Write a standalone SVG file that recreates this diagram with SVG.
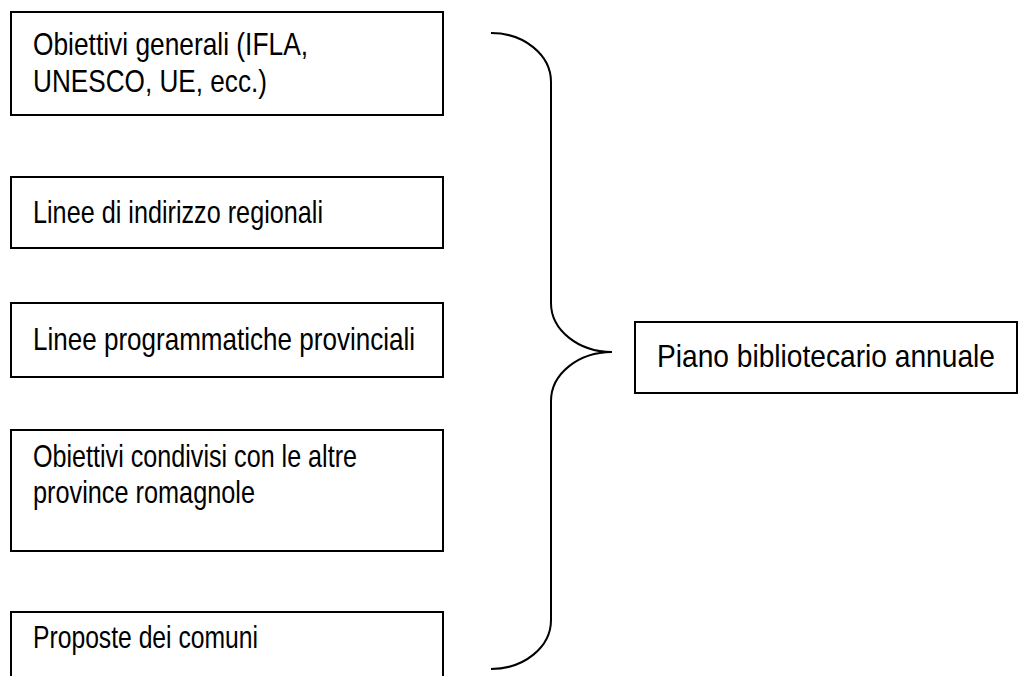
<svg xmlns="http://www.w3.org/2000/svg" width="1019" height="676" viewBox="0 0 1019 676">
<style>
.box{fill:#fff;stroke:#000;stroke-width:2}
.t{font-family:'Liberation Sans',Arial,sans-serif;font-size:32px;fill:#000}
.brace{fill:none;stroke:#000;stroke-width:2}
</style>
<rect width="1019" height="676" fill="#fff"/>
<g id="n1"><rect class="box" x="11" y="12" width="432" height="103"/>
<text class="t" x="33" y="55" textLength="275" lengthAdjust="spacingAndGlyphs">Obiettivi generali (IFLA,</text>
<text class="t" x="33" y="92" textLength="234" lengthAdjust="spacingAndGlyphs">UNESCO, UE, ecc.)</text></g>
<g id="n2"><rect class="box" x="11" y="177" width="432" height="71"/>
<text class="t" x="33" y="223" textLength="290" lengthAdjust="spacingAndGlyphs">Linee di indirizzo regionali</text></g>
<g id="n3"><rect class="box" x="11" y="303" width="432" height="74"/>
<text class="t" x="33" y="350" textLength="382" lengthAdjust="spacingAndGlyphs">Linee programmatiche provinciali</text></g>
<g id="n4"><rect class="box" x="11" y="430" width="432" height="121"/>
<text class="t" x="33" y="467" textLength="324" lengthAdjust="spacingAndGlyphs">Obiettivi condivisi con le altre</text>
<text class="t" x="33" y="503" textLength="222" lengthAdjust="spacingAndGlyphs">province romagnole</text></g>
<g id="n5"><rect class="box" x="11" y="612" width="432" height="90"/>
<text class="t" x="33" y="648" textLength="225" lengthAdjust="spacingAndGlyphs">Proposte dei comuni</text></g>
<g id="n6"><rect class="box" x="635" y="322" width="382" height="71"/>
<text class="t" transform="translate(657,367) scale(0.88,1)" x="0" y="0">Piano bibliotecario annuale</text></g>
<g id="connectors">
<path class="brace" d="M491,33 A60,49 0 0 1 551,82 L551,303 A61,49 0 0 0 612,352 A61,49 0 0 0 551,401 L551,620 A60,49 0 0 1 491,669"/>
</g>
</svg>
